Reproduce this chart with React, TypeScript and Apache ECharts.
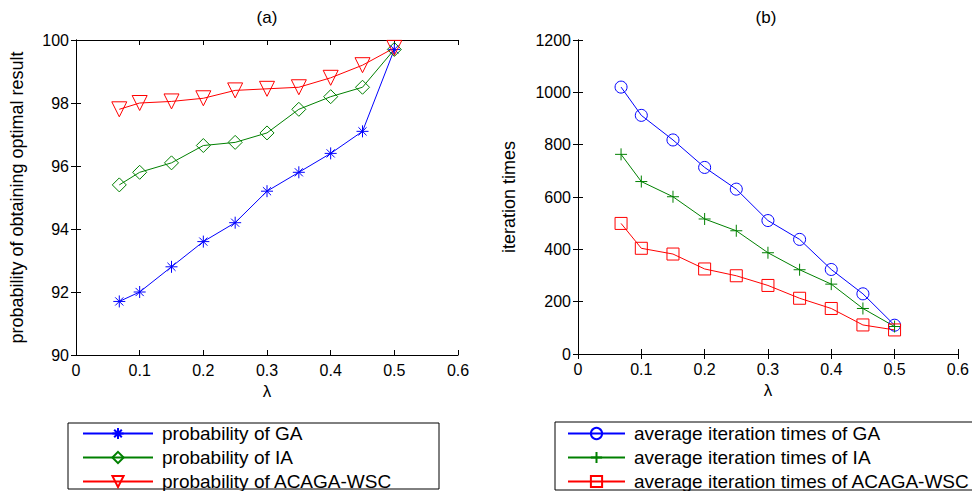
import React, { useEffect, useRef } from "react";
import * as echarts from "echarts";

const lambdas = [0.068, 0.1, 0.15, 0.2, 0.25, 0.3, 0.35, 0.4, 0.45, 0.5];
const probGA = [91.7, 92.0, 92.8, 93.6, 94.2, 95.2, 95.8, 96.4, 97.1, 99.7];
const probIA = [95.4, 95.8, 96.1, 96.65, 96.75, 97.05, 97.8, 98.2, 98.5, 99.7];
const probACAGA = [97.8, 98.0, 98.05, 98.15, 98.4, 98.45, 98.5, 98.8, 99.2, 99.75];
const iterGA = [1020, 912, 818, 713, 630, 510, 438, 323, 230, 110];
const iterIA = [763, 659, 601, 516, 471, 387, 322, 267, 174, 105];
const iterACAGA = [499, 404, 382, 325, 299, 262, 213, 174, 111, 92];

const namesA = ["probability of GA", "probability of IA", "probability of ACAGA-WSC"];
const namesB = [
  "average iteration times of GA",
  "average iteration times of IA",
  "average iteration times of ACAGA-WSC",
];

const FONT = "'Liberation Sans', Arial, Helvetica, sans-serif";
const BLUE = "#0000ff";
const GREEN = "#008000";
const RED = "#ff0000";

const SYM_ASTERISK = "path://M5,0L5,10M0,5L10,5M1.6,1.6L8.4,8.4M1.6,8.4L8.4,1.6";
const SYM_PLUS = "path://M5,0L5,10M0,5L10,5";
const SYM_TRI_DOWN = "path://M0,0L10,0L5,8.66Z";

function pairs(ys: number[]) {
  return lambdas.map((x, i) => [x, ys[i]]);
}

function mkSeries(name: string, ys: number[], color: string, symbol: string, size: number, axis: number) {
  return {
    name,
    type: "line",
    xAxisIndex: axis,
    yAxisIndex: axis,
    data: pairs(ys),
    symbol,
    symbolSize: size,
    showAllSymbol: true,
    lineStyle: { color, width: 1 },
    itemStyle: { color: "transparent", borderColor: color, borderWidth: 1 },
    emphasis: { disabled: true },
  };
}

export default function App() {
  const ref = useRef<HTMLDivElement>(null);
  useEffect(() => {
    if (!ref.current) return;
    const chart = echarts.init(ref.current, undefined, { renderer: "svg" });
    const axisLabel = {
      color: "#000",
      fontSize: 16,
      fontFamily: FONT,
      margin: 7,
      formatter: (v: number) => String(Math.round(v * 1000) / 1000),
    };
    const axisLine = { show: true, lineStyle: { color: "#000", width: 1 } };
    const axisTick = { show: true, inside: true, length: 5, lineStyle: { color: "#000" } };
    const nameStyle = { color: "#000", fontSize: 18, fontFamily: FONT };
    const xBottom = (grid: number) => ({
      type: "value",
      gridIndex: grid,
      position: "bottom",
      min: 0,
      max: 0.6,
      interval: 0.1,
      axisLine,
      axisTick,
      axisLabel,
      splitLine: { show: false },
      name: "λ",
      nameLocation: "middle",
      nameGap: 16,
      nameTextStyle: { ...nameStyle, fontSize: 17 },
    });
    const xTop = (grid: number) => ({
      type: "value",
      gridIndex: grid,
      position: "top",
      min: 0,
      max: 0.6,
      interval: 0.1,
      axisLine,
      axisTick,
      axisLabel: { show: false },
      splitLine: { show: false },
    });
    const yLeft = (grid: number, min: number, max: number, interval: number, name: string, gap: number) => ({
      type: "value",
      gridIndex: grid,
      position: "left",
      min,
      max,
      interval,
      axisLine,
      axisTick,
      axisLabel,
      splitLine: { show: false },
      name,
      nameLocation: "middle",
      nameGap: gap,
      nameTextStyle: nameStyle,
    });
    const yRight = (grid: number, min: number, max: number, interval: number) => ({
      type: "value",
      gridIndex: grid,
      position: "right",
      min,
      max,
      interval,
      axisLine,
      axisTick,
      axisLabel: { show: false },
      splitLine: { show: false },
    });
    const legendBase = {
      orient: "vertical",
      padding: 0,
      itemHeight: 14,
      itemGap: 5,
      height: 120,
      width: 440,
      selectedMode: false,
      textStyle: { color: "#000", fontSize: 19, fontFamily: FONT, padding: [0, 0, 0, 4] },
    };
    chart.setOption({
      animation: false,
      backgroundColor: "#fff",
      grid: [
        { left: 76, top: 40, width: 382, height: 315 },
        { left: 578, top: 40, width: 381, height: 314 },
      ],
      xAxis: [xBottom(0), xBottom(1), xTop(0), xTop(1)],
      yAxis: [
        yLeft(0, 90, 100, 2, "probability of obtaining optimal result", 50),
        yLeft(1, 0, 1200, 200, "iteration times", 60),
        yRight(0, 90, 100, 2),
        yRight(1, 0, 1200, 200),
      ],
      legend: [
        { ...legendBase, data: namesA, left: 82, top: 424, itemWidth: 70 },
        { ...legendBase, data: namesB, left: 567, top: 424, itemWidth: 57 },
      ],
      graphic: [
        { type: "text", x: 267, y: 17, style: { text: "(a)", align: "center", verticalAlign: "middle", font: `17px ${FONT}`, fill: "#000" } },
        { type: "text", x: 766, y: 17, style: { text: "(b)", align: "center", verticalAlign: "middle", font: `17px ${FONT}`, fill: "#000" } },
        { type: "rect", shape: { x: 68, y: 423, width: 371, height: 66 }, style: { fill: "none", stroke: "#000", lineWidth: 1 }, z: -1 },
        { type: "rect", shape: { x: 555, y: 422, width: 430, height: 68 }, style: { fill: "none", stroke: "#000", lineWidth: 1 }, z: -1 },
      ],
      series: [
        mkSeries(namesA[0], probGA, BLUE, SYM_ASTERISK, 12, 0),
        mkSeries(namesA[1], probIA, GREEN, "diamond", 14, 0),
        mkSeries(namesA[2], probACAGA, RED, SYM_TRI_DOWN, 15, 0),
        mkSeries(namesB[0], iterGA, BLUE, "circle", 12, 1),
        mkSeries(namesB[1], iterIA, GREEN, SYM_PLUS, 12, 1),
        mkSeries(namesB[2], iterACAGA, RED, "rect", 12, 1),
      ],
    });
    return () => chart.dispose();
  }, []);
  return <div ref={ref} style={{ width: 972, height: 491, position: "absolute", left: 0, top: 0 }} />;
}
